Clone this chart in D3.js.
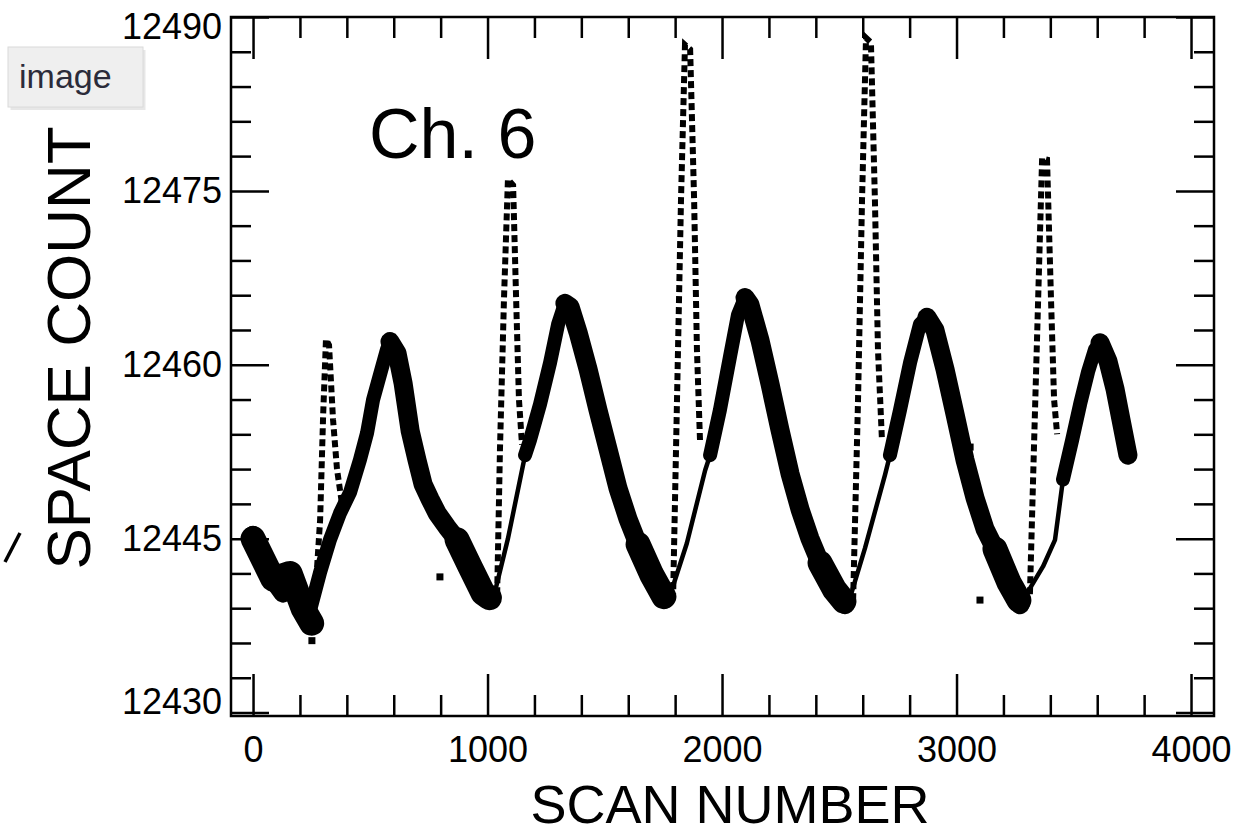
<!DOCTYPE html>
<html>
<head>
<meta charset="utf-8">
<script src="https://cdn.jsdelivr.net/npm/d3@7"></script>
<style>
  html, body { margin: 0; padding: 0; background: #ffffff; }
  svg { display: block; font-family: "Liberation Sans", Arial, Helvetica, sans-serif; }
</style>
</head>
<body>
<svg id="chart" width="1235" height="835"></svg>
<script>
// ---------------- data ----------------
const xMajorTicks = [0, 1000, 2000, 3000, 4000];
const xMinorTicks = [200, 400, 600, 800, 1200, 1400, 1600, 1800, 2200, 2400, 2600, 2800, 3200, 3400, 3600, 3800];
const yMajorTicks = [12430, 12445, 12460, 12475, 12490];
const yMinorTicks = [12433, 12436, 12439, 12442, 12448, 12451, 12454, 12457, 12463, 12466, 12469, 12472, 12478, 12481, 12484, 12487];

// dense band, falling branches (null separates segments)
const fallScan  = [0, 43, 85, 128, 158, 188, 213, 235, null,
  584, 614, 640, 670, 699, 725, 755, 785, 827, 870, 896, 925, 955, 981, 1002, null,
  1330, 1352, 1386, 1429, 1471, 1514, 1557, 1599, 1642, 1684, 1727, 1757, null,
  2098, 2119, 2162, 2205, 2247, 2290, 2333, 2375, 2418, 2461, 2503, 2525, null,
  2874, 2908, 2951, 2994, 3036, 3079, 3122, 3164, 3207, 3241, 3271, null,
  3612, 3646, 3676, 3701, 3731];
const fallCount = [12445.3, 12443.2, 12441.5, 12440.3, 12442.0, 12440.6, 12439.1, 12438.2, null,
  12462.0, 12461.0, 12458.4, 12454.3, 12451.8, 12449.7, 12448.4, 12447.2, 12446.0, 12444.9, 12443.8, 12442.6, 12441.2, 12440.3, 12439.8, null,
  12465.3, 12465.0, 12462.8, 12459.6, 12456.1, 12452.7, 12449.3, 12446.7, 12444.5, 12442.8, 12441.1, 12439.8, null,
  12465.8, 12465.2, 12462.1, 12458.3, 12454.4, 12450.6, 12447.5, 12445.0, 12442.9, 12441.1, 12439.8, 12439.3, null,
  12464.1, 12463.0, 12459.6, 12455.7, 12451.8, 12448.5, 12445.8, 12444.1, 12442.3, 12440.6, 12439.3, null,
  12461.9, 12460.3, 12457.9, 12455.3, 12452.2];

// dense band, rising branches
const riseScan  = [235, 286, 328, 371, 414, 456, 486, 512, 542, 571, 584, null,
  1160, 1181, 1224, 1267, 1301, 1330, null,
  1949, 1991, 2034, 2068, 2098, null,
  2716, 2759, 2802, 2844, 2874, null,
  3454, 3493, 3527, 3561, 3590, 3612];
const riseCount = [12438.2, 12442.1, 12444.9, 12447.2, 12449.0, 12451.8, 12454.1, 12457.0, 12459.2, 12461.3, 12462.0, null,
  12452.2, 12453.5, 12456.6, 12460.2, 12463.5, 12465.3, null,
  12452.2, 12456.1, 12460.7, 12464.3, 12465.8, null,
  12452.2, 12456.1, 12460.2, 12463.5, 12464.1, null,
  12450.1, 12453.5, 12456.6, 12459.4, 12461.3, 12461.9];

// noisier parts of the band near each minimum
const noiseScan  = [0, 85, 158, 213, 250, null, 870, 925, 981, 1008, null, 1642, 1700, 1752, null, 2418, 2480, 2520, null, 3164, 3224, 3266];
const noiseCount = [12445.0, 12441.5, 12442.0, 12439.0, 12437.7, null, 12444.9, 12442.6, 12440.3, 12439.9, null, 12444.5, 12441.9, 12440.0, null, 12442.9, 12440.6, 12439.6, null, 12444.1, 12441.2, 12439.7];

// thin solid line rising from each minimum
const thinScan  = [1011, 1023, 1087, 1160, null, 1757, 1770, 1850, 1928, 1949, null, 2525, 2537, 2610, 2695, 2716, null, 3271, 3301, 3369, 3420, 3454];
const thinCount = [12439.3, 12439.7, 12445.0, 12452.2, null, 12439.7, 12439.6, 12444.6, 12450.9, 12452.2, null, 12439.1, 12439.3, 12444.2, 12450.5, 12452.2, null, 12439.4, 12440.3, 12442.6, 12444.9, 12450.1];

// sparse spikes (rising then falling sides)
const spikeScan  = [264, 286, 299, 311, 324, 341, 358, 380, null,
  1041, 1053, 1070, 1087, 1109, 1122, 1134, 1147, null,
  1791, 1808, 1825, 1842, 1864, 1881, 1893, 1906, null,
  2559, 2580, 2597, 2614, 2635, 2652, 2665, 2682, null,
  3313, 3330, 3348, 3365, 3386, 3403, 3416, 3429];
const spikeCount = [12439.7, 12446.6, 12455.7, 12462.2, 12461.7, 12455.3, 12451.0, 12447.9, null,
  12440.2, 12452.7, 12465.6, 12476.0, 12475.5, 12465.6, 12457.0, 12453.1, null,
  12439.7, 12457.0, 12474.2, 12487.6, 12487.2, 12474.2, 12461.3, 12453.5, null,
  12439.7, 12457.0, 12474.2, 12488.2, 12487.8, 12474.2, 12461.3, 12453.5, null,
  12440.2, 12452.7, 12465.6, 12477.8, 12477.7, 12465.6, 12457.0, 12454.0];

// isolated stray points
const strayScan  = [797, 3058, 3100, 251];
const strayCount = [12441.7, 12452.9, 12439.7, 12436.2];

// ---------------- drawing ----------------
const svg = d3.select("#chart");
const pL = 231, pR = 1214, pT = 17, pB = 716;
const x = d3.scaleLinear().domain([-94, 4098]).range([pL, pR]);
const y = d3.scaleLinear().domain([12429.7, 12490]).range([pB, pT]);

const zip = (a, b) => a.map((v, i) => [v, b[i]]);
const line = d3.line()
  .defined(d => d[0] !== null && d[1] !== null)
  .x(d => x(d[0])).y(d => y(d[1]));

const plot = svg.append("g");

plot.append("path").attr("d", line(zip(noiseScan, noiseCount)))
  .attr("fill", "none").attr("stroke", "#000").attr("stroke-width", 25)
  .attr("stroke-linejoin", "round").attr("stroke-linecap", "round");
plot.append("path").attr("d", line(zip(fallScan, fallCount)))
  .attr("fill", "none").attr("stroke", "#000").attr("stroke-width", 19)
  .attr("stroke-linejoin", "round").attr("stroke-linecap", "round");
plot.append("path").attr("d", line(zip(riseScan, riseCount)))
  .attr("fill", "none").attr("stroke", "#000").attr("stroke-width", 14)
  .attr("stroke-linejoin", "round").attr("stroke-linecap", "round");
plot.append("path").attr("d", line(zip(thinScan, thinCount)))
  .attr("fill", "none").attr("stroke", "#000").attr("stroke-width", 4.5)
  .attr("stroke-linejoin", "round");
plot.append("path").attr("d", line(zip(spikeScan, spikeCount)))
  .attr("fill", "none").attr("stroke", "#000").attr("stroke-width", 6)
  .attr("stroke-dasharray", "7,4");
plot.selectAll("rect.stray").data(zip(strayScan, strayCount)).enter().append("rect")
  .attr("class", "stray")
  .attr("x", d => x(d[0]) - 3.5).attr("y", d => y(d[1]) - 3.5)
  .attr("width", 7).attr("height", 7).attr("fill", "#000");

// axes
const tickStyle = g => {
  g.select(".domain").remove();
  g.selectAll(".tick line").attr("stroke", "#000").attr("stroke-width", 2.5);
  g.selectAll("text").attr("fill", "#000").attr("font-size", 36)
    .attr("font-family", "Liberation Sans, Arial, sans-serif");
};
// bottom
svg.append("g").attr("transform", `translate(0,${pB})`)
  .call(d3.axisBottom(x).tickValues(xMajorTicks).tickSize(-42).tickSizeOuter(0).tickPadding(20).tickFormat(d3.format("d")))
  .call(tickStyle);
svg.append("g").attr("transform", `translate(0,${pB})`)
  .call(d3.axisBottom(x).tickValues(xMinorTicks).tickSize(-21).tickSizeOuter(0).tickFormat(""))
  .call(tickStyle);
// top
svg.append("g").attr("transform", `translate(0,${pT})`)
  .call(d3.axisTop(x).tickValues(xMajorTicks).tickSize(-42).tickSizeOuter(0).tickFormat(""))
  .call(tickStyle);
svg.append("g").attr("transform", `translate(0,${pT})`)
  .call(d3.axisTop(x).tickValues(xMinorTicks).tickSize(-21).tickSizeOuter(0).tickFormat(""))
  .call(tickStyle);
// left
const yl = svg.append("g").attr("transform", `translate(${pL},0)`)
  .call(d3.axisLeft(y).tickValues(yMajorTicks).tickSize(-38).tickSizeOuter(0).tickPadding(9).tickFormat(d3.format("d")))
  .call(tickStyle);
yl.selectAll(".tick text").attr("y", d => Math.max(pT + 10, Math.min(pB - 14, y(d))) - y(d));
svg.append("g").attr("transform", `translate(${pL},0)`)
  .call(d3.axisLeft(y).tickValues(yMinorTicks).tickSize(-20).tickSizeOuter(0).tickFormat(""))
  .call(tickStyle);
// right
svg.append("g").attr("transform", `translate(${pR},0)`)
  .call(d3.axisRight(y).tickValues(yMajorTicks).tickSize(-38).tickSizeOuter(0).tickFormat(""))
  .call(tickStyle);
svg.append("g").attr("transform", `translate(${pR},0)`)
  .call(d3.axisRight(y).tickValues(yMinorTicks).tickSize(-20).tickSizeOuter(0).tickFormat(""))
  .call(tickStyle);

// frame
svg.append("rect").attr("x", pL).attr("y", pT).attr("width", pR - pL).attr("height", pB - pT)
  .attr("fill", "none").attr("stroke", "#000").attr("stroke-width", 2.5);

// titles
svg.append("text").attr("x", 730).attr("y", 823).attr("text-anchor", "middle")
  .attr("font-size", 54).attr("fill", "#000").text("SCAN NUMBER");
svg.append("text").attr("transform", "translate(90,348) rotate(-90)").attr("text-anchor", "middle")
  .attr("font-size", 62).attr("fill", "#000").text("SPACE COUNT");
svg.append("text").attr("x", 369).attr("y", 158)
  .attr("font-size", 70).attr("fill", "#000").text("Ch. 6");

// overlay button "image" and stray glyph seen in the screenshot
svg.append("rect").attr("x", 9).attr("y", 48).attr("width", 135).attr("height", 60)
  .attr("fill", "#bbbbbb").attr("opacity", 0.35).attr("transform", "translate(1.5,2)");
svg.append("rect").attr("x", 8).attr("y", 47).attr("width", 135).attr("height", 60)
  .attr("fill", "#efefef").attr("stroke", "#dadada").attr("stroke-width", 1);
svg.append("text").attr("x", 19).attr("y", 88).attr("font-size", 34).attr("fill", "#2b2b3a").text("image");
svg.append("path").attr("d", "M20,533 L5,562").attr("stroke", "#000").attr("stroke-width", 3.5);
</script>
</body>
</html>
